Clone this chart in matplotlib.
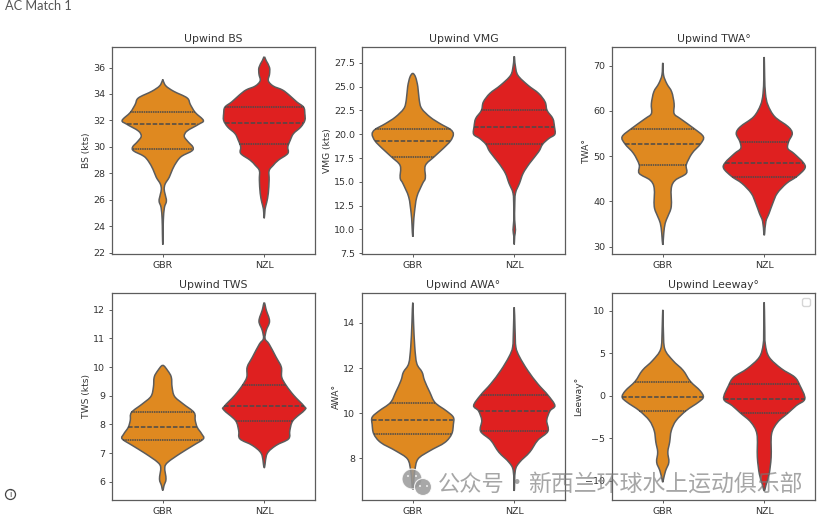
"""
plot.py
Upwind violin comparison GBR vs NZL, AC Match 1.
"""
import warnings
import numpy as np
import matplotlib
matplotlib.use("Agg")
import matplotlib.pyplot as plt
from matplotlib.patches import Circle, PathPatch
from matplotlib.path import Path
from matplotlib.transforms import IdentityTransform

TEAMS = ["GBR", "NZL"]

# violin outlines: value, relative half width (widest = 1)
BS_GBR_Y = [35.1, 35.0, 34.6, 34.2, 33.7, 33.2, 32.6, 32.0, 31.7, 31.2, 30.8, 30.4, 30.0, 29.7, 29.3, 28.9, 28.3, 27.7, 27.2, 26.8, 26.4, 25.9, 25.4, 24.5, 23.5, 22.6]
BS_GBR_W = [0, .01, .08, .27, .6, .68, .8, 1, .88, .6, .53, .62, .74, .72, .47, .35, .24, .16, .06, .035, .06, .09, .04, .015, .008, 0]
BS_NZL_Y = [36.8, 36.5, 36.0, 35.5, 35.0, 34.6, 34.3, 33.9, 33.4, 33.0, 32.5, 32.0, 31.5, 31.0, 30.5, 30.0, 29.5, 29.0, 28.6, 28.2, 27.5, 26.5, 25.8, 25.3, 24.6]
BS_NZL_W = [0, .05, .13, .13, .1, .22, .45, .62, .8, .97, 1, 1, .9, .72, .64, .58, .58, .35, .22, .12, .12, .1, .06, .02, 0]
BS_Q = [[32.6, 31.7, 29.85], [33.0, 31.8, 30.25]]

VMG_GBR_Y = [26.4, 26.0, 25.0, 23.6, 22.7, 21.8, 21.1, 20.5, 20.0, 19.3, 18.5, 17.6, 16.7, 15.4, 14.8, 13.4, 11.7, 10.6, 9.2]
VMG_GBR_W = [0, .07, .125, .16, .22, .43, .68, .93, 1, .93, .75, .52, .31, .31, .24, .1, .04, .02, 0]
VMG_NZL_Y = [28.2, 27.25, 26.2, 25.15, 24.3, 23.4, 22.5, 21.65, 20.8, 20.0, 19.55, 18.95, 18.15, 16.95, 15.9, 14.85, 13.8, 12.4, 11.0, 9.95, 9.25, 8.4]
VMG_NZL_W = [0, .025, .09, .34, .6, .76, .81, .95, .99, 1, .85, .7, .6, .38, .22, .13, .03, .012, .01, .03, .01, 0]
VMG_Q = [[20.5, 19.25, 17.6], [22.5, 20.8, 18.95]]

TWA_GBR_Y = [70.6, 67.9, 66.0, 64.2, 61.6, 59.4, 58.3, 56.1, 54.3, 52.7, 50.6, 48.1, 46.2, 44.7, 42.9, 38.9, 36.7, 35.2, 33.0, 30.4]
TWA_GBR_W = [0, .02, .1, .22, .28, .28, .43, .77, 1, .93, .72, .58, .58, .31, .21, .21, .125, .06, .025, 0]
TWA_NZL_Y = [71.9, 67.5, 63.8, 61.3, 58.7, 56.5, 55.0, 53.2, 51.7, 50.6, 48.6, 47.3, 45.5, 44.0, 41.8, 39.6, 37.4, 35.6, 33.0, 32.6]
TWA_NZL_W = [0, .01, .03, .09, .26, .59, .69, .6, .58, .73, .96, 1, .8, .55, .32, .21, .12, .04, .01, 0]
TWA_Q = [[56.1, 52.7, 48.1], [53.2, 48.6, 45.5]]

TWS_GBR_Y = [10.06, 9.88, 9.65, 9.3, 8.98, 8.72, 8.42, 8.14, 7.9, 7.67, 7.5, 7.27, 6.98, 6.69, 6.5, 6.1, 5.87, 5.7]
TWS_GBR_W = [0, .12, .21, .23, .29, .5, .77, .8, .85, .96, 1, .75, .42, .13, .05, .08, .03, 0]
TWS_NZL_Y = [12.24, 11.98, 11.6, 11.28, 10.99, 10.8, 10.35, 10.0, 9.65, 9.36, 9.01, 8.64, 8.51, 8.14, 7.79, 7.5, 7.27, 6.98, 6.5]
TWS_NZL_W = [0, .05, .13, .05, .02, .12, .29, .42, .43, .54, .73, .98, 1, .71, .63, .6, .29, .07, 0]
TWS_Q = [[8.42, 7.9, 7.47], [9.36, 8.64, 8.13]]

AWA_GBR_Y = [14.9, 14.0, 12.93, 12.2, 11.82, 11.45, 10.93, 10.47, 10.1, 9.82, 9.5, 9.08, 8.7, 8.33, 7.97, 7.45, 7.0, 6.6]
AWA_GBR_W = [0, .02, .05, .1, .23, .29, .42, .55, .83, 1, 1, .96, .79, .42, .13, .05, .025, 0]
AWA_NZL_Y = [14.7, 13.67, 12.93, 12.5, 11.9, 11.3, 10.8, 10.34, 10.1, 9.68, 9.2, 8.8, 8.27, 7.82, 7.45, 6.55]
AWA_NZL_W = [0, .02, .04, .13, .33, .58, .83, 1, .88, .8, .83, .58, .38, .13, .025, 0]
AWA_Q = [[10.47, 9.7, 9.07], [10.8, 10.08, 9.2]]

LWY_GBR_Y = [10.1, 7.7, 5.5, 4.15, 3.0, 1.7, 0.6, -0.15, -0.75, -1.73, -2.9, -4.1, -5.45, -6.6, -7.8, -8.8, -9.75, -10.15]
LWY_GBR_W = [0, .015, .05, .25, .5, .68, .92, 1, .88, .58, .33, .21, .17, .125, .15, .07, .02, 0]
LWY_NZL_Y = [11.0, 8.0, 6.1, 4.55, 3.2, 2.2, 1.2, -0.35, -1.15, -2.05, -3.1, -4.5, -7.2, -9.2, -10.35, -11.15]
LWY_NZL_W = [0, .012, .025, .12, .42, .75, .88, 1, .79, .58, .33, .18, .17, .12, .05, 0]
LWY_Q = [[1.65, -0.15, -1.75], [1.35, -0.35, -2.05]]

COLORS = ["#DF8920", "#DF2020"]
LINE_COL = "#5c5c5c"
TEXT_COL = "#333333"
WM_COL = "#777777"
CJK = ["Noto Sans CJK SC", "DejaVu Sans"]
W, H = 830, 516
MAX_HALF = 0.4


def outline_path(pos, y, half):
    # closed bezier through the read points (catmull-rom handles)
    xs = np.concatenate([pos + half, (pos - half)[-2:0:-1]])
    ys = np.concatenate([y, y[-2:0:-1]])
    pts = np.column_stack([xs, ys])
    prev_p, next_p = np.roll(pts, 1, axis=0), np.roll(pts, -1, axis=0)
    tang = (next_p - prev_p) / 6
    verts, codes = [pts[0]], [Path.MOVETO]
    n = len(pts)
    for i in range(n):
        j = (i + 1) % n
        verts += [pts[i] + tang[i], pts[j] - tang[j], pts[j]]
        codes += [Path.CURVE4] * 3
    return Path(verts, codes)


def draw_violin(ax, pos, y, w, quarts, color):
    y = np.array(y)
    half = np.array(w) * MAX_HALF
    ax.add_patch(PathPatch(outline_path(pos, y, half), facecolor=color, edgecolor=LINE_COL, linewidth=1.1, zorder=2))
    for i, q in enumerate(quarts):
        hw = np.interp(q, y[::-1], half[::-1])
        ls = (0, (3, 1.2)) if i == 1 else (0, (1, 0.5))
        ax.plot([pos - hw, pos + hw], [q, q], color="#4a4a4a", linewidth=1.1, linestyle=ls, zorder=3)


def make_panel(fig, left, top, title, ylabel, ylim, yticks, gbr, nzl, quarts):
    ax = fig.add_axes([left / W, 1 - (top + 207) / H, 203 / W, 207 / H])
    draw_violin(ax, 0, gbr[0], gbr[1], quarts[0], COLORS[0])
    draw_violin(ax, 1, nzl[0], nzl[1], quarts[1], COLORS[1])
    ax.set_xlim(-0.5, 1.5)
    ax.set_ylim(*ylim)
    ax.set_xticks([0, 1], TEAMS)
    ax.set_yticks(yticks)
    ax.set_title(title, fontsize=7.8, color=TEXT_COL, pad=3.5)
    ax.set_ylabel(ylabel, fontsize=6.6, color=TEXT_COL, labelpad=1.5)
    ax.tick_params(labelsize=6.8, length=2.5, width=0.7, color=LINE_COL, labelcolor=TEXT_COL, pad=2.5)
    for sp in ax.spines.values():
        sp.set_color(LINE_COL)
        sp.set_linewidth(0.9)
    return ax


fig = plt.figure(figsize=(W / 100, H / 100), dpi=100)

make_panel(fig, 112, 47, "Upwind BS", "BS (kts)", (21.9, 37.55), [22, 24, 26, 28, 30, 32, 34, 36],
           (BS_GBR_Y, BS_GBR_W), (BS_NZL_Y, BS_NZL_W), BS_Q)
make_panel(fig, 362, 47, "Upwind VMG", "VMG (kts)", (7.4, 29.18), [7.5, 10, 12.5, 15, 17.5, 20, 22.5, 25, 27.5],
           (VMG_GBR_Y, VMG_GBR_W), (VMG_NZL_Y, VMG_NZL_W), VMG_Q)
make_panel(fig, 612, 47, "Upwind TWA\u00b0", "TWA\u00b0", (28.4, 74.1), [30, 40, 50, 60, 70],
           (TWA_GBR_Y, TWA_GBR_W), (TWA_NZL_Y, TWA_NZL_W), TWA_Q)
make_panel(fig, 112, 293, "Upwind TWS", "TWS (kts)", (5.37, 12.58), [6, 7, 8, 9, 10, 11, 12],
           (TWS_GBR_Y, TWS_GBR_W), (TWS_NZL_Y, TWS_NZL_W), TWS_Q)
make_panel(fig, 362, 293, "Upwind AWA\u00b0", "AWA\u00b0", (6.15, 15.33), [8, 10, 12, 14],
           (AWA_GBR_Y, AWA_GBR_W), (AWA_NZL_Y, AWA_NZL_W), AWA_Q)
ax_lwy = make_panel(fig, 612, 293, "Upwind Leeway\u00b0", "Leeway\u00b0", (-12.24, 12.08), [-10, -5, 0, 5, 10],
                    (LWY_GBR_Y, LWY_GBR_W), (LWY_NZL_Y, LWY_NZL_W), LWY_Q)

# the original has an empty legend box in the last panel
with warnings.catch_warnings():
    warnings.simplefilter("ignore")
    ax_lwy.legend(handles=[], loc="upper right", fontsize=7)

fig.text(5 / W, 1 - 6 / H, "AC Match 1", fontsize=9.2, color="#555555", family="Lato", va="center", ha="left")

px = IdentityTransform()

# info icon, bottom left
fig.add_artist(Circle((10.5, H - 494.5), 5, transform=px, fill=False, edgecolor="#444444", linewidth=0.9))
fig.text(10.5 / W, 1 - 494.5 / H, "i", fontsize=6, color="#444444", ha="center", va="center")

# watermark
for cx, cy, r in [(412, 479, 10), (423, 487, 8.5)]:
    fig.add_artist(Circle((cx, H - cy), r, transform=px, facecolor="#999999", edgecolor="white", linewidth=0.8, alpha=0.85, zorder=10))
for cx, cy in [(408, 476), (416, 476), (420, 486), (427, 486)]:
    fig.add_artist(Circle((cx, H - cy), 0.9, transform=px, facecolor="white", edgecolor="none", zorder=11))
fig.text(438 / W, 1 - 484 / H, "公众号", fontsize=16, color=WM_COL, alpha=0.65, family=CJK, va="center", ha="left", zorder=10)
fig.text(516 / W, 1 - 484 / H, "·", fontsize=16, color=WM_COL, alpha=0.65, family=CJK, va="center", ha="center", zorder=10)
fig.text(528 / W, 1 - 484 / H, "新西兰环球水上运动俱乐部", fontsize=16.5, color=WM_COL, alpha=0.65, family=CJK, va="center", ha="left", zorder=10)

fig.savefig("out.png", dpi=100)
plt.close(fig)
